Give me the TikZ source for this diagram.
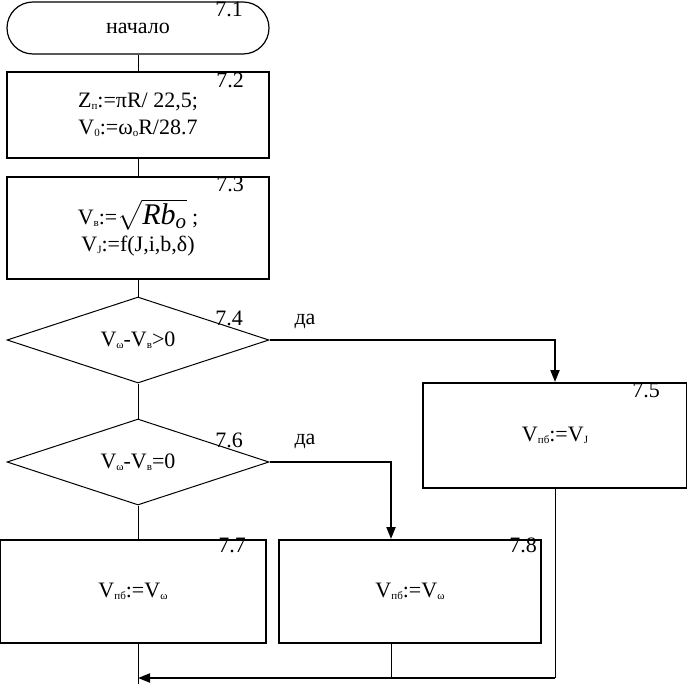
\documentclass[tikz,border=0pt]{standalone}
\usepackage{fontspec}
\setmainfont{Liberation Serif}
\usepackage{tikz}
\usetikzlibrary{shapes}
\usetikzlibrary{arrows.meta}
\usepackage{amsmath}

\newcommand{\lowidx}[1]{\raisebox{-0.15ex}{\fontsize{11}{11}\selectfont #1}}

\tikzset{
	block/.style = {draw = black, line width = 2pt, shape = rectangle,
					align = center, inner sep = 0pt},
	cond/.style = {draw = black, line width = 1pt, shape = diamond, aspect = 3,
				   minimum width = 262pt, minimum height = 86pt, inner sep = 0pt},
	numtag/.style = {inner sep = 0pt},
	thin line/.style = {line width = 1pt},
	thick line/.style = {line width = 2pt},
	flow arrow/.style = {-{Triangle[length = 12pt, width = 9pt]}}
}

\begin{document}
\begin{tikzpicture}[x = 1pt, y = -1pt, font = \fontsize{22}{27}\selectfont]
	\useasboundingbox (0,0) rectangle (687,684);

	\draw (138, 28) node[draw = black,
					 line width = 1.2pt,
					 rounded corners = 26pt,
					 minimum width = 262pt,
					 minimum height = 52pt](t71) {начало};
	\draw (138, 115) node[block,
					 minimum width = 262pt,
					 minimum height = 86pt](b72) {Z\lowidx{п}:=πR/ 22,5;\\V\lowidx{0}:=ω\lowidx{o}R/28.7};
	\draw (138, 228) node[block,
					 minimum width = 262pt,
					 minimum height = 102pt](b73) {V\lowidx{в}:={\fontsize{30}{30}\selectfont$\sqrt{\textit{Rb}_{\textit{o}}}$} ;\\V\lowidx{J}:=f(J,i,b,δ)};
	\draw (138, 340) node[cond](d74) {V\lowidx{ω}-V\lowidx{в}>0};
	\draw (555, 435.5) node[block,
					 minimum width = 264pt,
					 minimum height = 105pt](b75) {V\lowidx{пб}:=V\lowidx{J}};
	\draw (138, 462) node[cond](d76) {V\lowidx{ω}-V\lowidx{в}=0};
	\draw (133, 591.5) node[block,
					 minimum width = 266pt,
					 minimum height = 103pt](b77) {V\lowidx{пб}:=V\lowidx{ω}};
	\draw (410, 591.5) node[block,
					 minimum width = 262pt,
					 minimum height = 103pt](b78) {V\lowidx{пб}:=V\lowidx{ω}};

	\draw (229, 9) node[numtag](n71) {7.1};
	\draw (230, 80) node[numtag](n72) {7.2};
	\draw (230, 184) node[numtag](n73) {7.3};
	\draw (229, 318) node[numtag](n74) {7.4};
	\draw (646, 390) node[numtag](n75) {7.5};
	\draw (229, 440) node[numtag](n76) {7.6};
	\draw (232, 545) node[numtag](n77) {7.7};
	\draw (523, 545) node[numtag](n78) {7.8};
	\draw (305, 321) node[numtag](yes74) {да};
	\draw (305, 441) node[numtag](yes76) {да};

	\coordinate (join) at (138, 678);
	\coordinate (exit) at (138, 684);

	\draw[thin line] (t71.south) -- (b72.north);
	\draw[thin line] (b72.south) -- (b73.north);
	\draw[thin line] (b73.south) -- (d74.north);
	\draw[thick line, flow arrow] (d74.east) -| (b75.north);
	\draw[thin line] (d74.south) -- (d76.north);
	\draw[thick line, flow arrow] (d76.east) -| ([xshift = -19pt]b78.north);
	\draw[thin line] (d76.south) -- (d76.south |- b77.north);

	\draw[thin line] (d76.south |- b77.south) -- (exit);
	\draw[thin line] ([xshift = -19pt]b78.south) -- ([xshift = -19pt]b78.south |- join);
	\draw[thin line] (b75.south) -- (b75.south |- join);
	\draw[thick line, flow arrow] (b75.south |- join) -- (join);

\end{tikzpicture}
\end{document}
